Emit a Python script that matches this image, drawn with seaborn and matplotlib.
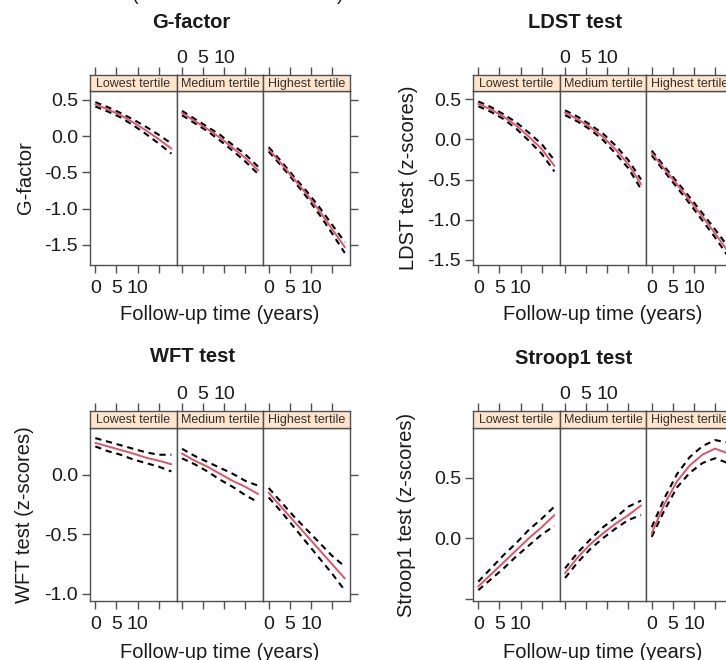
import matplotlib

matplotlib.use("Agg")
import matplotlib.pyplot as plt
import seaborn as sns
import numpy as np
import pandas as pd

# --- data ---
TIME = [0, 3, 6, 9, 12, 15, 18]
TERTILES = ["Lowest tertile", "Medium tertile", "Highest tertile"]
XTICKS = [0, 5, 10, 15]
XTICKLABELS = ["0", "5", "10", ""]

# G-factor: fitted curve, upper and lower bound, one list per tertile
G_FIT = [
    [0.44, 0.37, 0.29, 0.19, 0.08, -0.04, -0.17],
    [0.32, 0.21, 0.10, -0.02, -0.16, -0.30, -0.47],
    [-0.18, -0.38, -0.59, -0.80, -1.03, -1.28, -1.53],
]
G_UPPER = [
    [0.47, 0.40, 0.32, 0.23, 0.13, 0.02, -0.10],
    [0.35, 0.24, 0.13, 0.02, -0.12, -0.25, -0.42],
    [-0.15, -0.35, -0.56, -0.76, -0.98, -1.22, -1.46],
]
G_LOWER = [
    [0.41, 0.34, 0.26, 0.15, 0.03, -0.10, -0.24],
    [0.29, 0.18, 0.07, -0.06, -0.20, -0.35, -0.52],
    [-0.21, -0.41, -0.62, -0.84, -1.08, -1.34, -1.61],
]

# LDST test
LDST_FIT = [
    [0.44, 0.37, 0.28, 0.17, 0.03, -0.12, -0.33],
    [0.33, 0.25, 0.15, 0.03, -0.13, -0.31, -0.56],
    [-0.17, -0.37, -0.56, -0.76, -0.96, -1.17, -1.39],
]
LDST_UPPER = [
    [0.47, 0.40, 0.31, 0.21, 0.08, -0.06, -0.26],
    [0.36, 0.28, 0.18, 0.07, -0.08, -0.26, -0.50],
    [-0.14, -0.34, -0.53, -0.72, -0.92, -1.12, -1.33],
]
LDST_LOWER = [
    [0.41, 0.34, 0.25, 0.13, -0.02, -0.18, -0.40],
    [0.30, 0.22, 0.12, -0.01, -0.18, -0.36, -0.62],
    [-0.20, -0.40, -0.60, -0.80, -1.01, -1.22, -1.45],
]

# WFT test
WFT_FIT = [
    [0.27, 0.24, 0.21, 0.18, 0.145, 0.12, 0.09],
    [0.18, 0.12, 0.07, 0.01, -0.05, -0.10, -0.16],
    [-0.15, -0.27, -0.39, -0.51, -0.63, -0.75, -0.87],
]
WFT_UPPER = [
    [0.31, 0.28, 0.25, 0.22, 0.19, 0.17, 0.17],
    [0.22, 0.16, 0.11, 0.06, 0.01, -0.05, -0.09],
    [-0.11, -0.23, -0.35, -0.46, -0.57, -0.68, -0.77],
]
WFT_LOWER = [
    [0.24, 0.20, 0.17, 0.13, 0.10, 0.07, 0.03],
    [0.14, 0.09, 0.03, -0.04, -0.10, -0.17, -0.23],
    [-0.19, -0.31, -0.44, -0.57, -0.70, -0.83, -0.97],
]

# Stroop1 test
STROOP_FIT = [
    [-0.40, -0.30, -0.20, -0.10, 0.00, 0.09, 0.19],
    [-0.29, -0.16, -0.05, 0.04, 0.12, 0.19, 0.27],
    [0.04, 0.28, 0.47, 0.60, 0.69, 0.74, 0.70],
]
STROOP_UPPER = [
    [-0.36, -0.25, -0.14, -0.04, 0.07, 0.16, 0.26],
    [-0.25, -0.12, -0.01, 0.09, 0.17, 0.26, 0.31],
    [0.09, 0.33, 0.53, 0.67, 0.76, 0.81, 0.79],
]
STROOP_LOWER = [
    [-0.43, -0.34, -0.25, -0.15, -0.06, 0.03, 0.10],
    [-0.33, -0.20, -0.09, 0.00, 0.08, 0.15, 0.19],
    [0.01, 0.23, 0.42, 0.54, 0.62, 0.66, 0.62],
]

# --- layout (pixels) ---
W, H = 726, 660
PANEL_W = 86.7
RED = "#DF536B"
FRAME = "#505050"
STRIP = "#FFE5CC"

OUTCOMES = [
    dict(title="G-factor", ylabel="G-factor", fit=G_FIT, upper=G_UPPER, lower=G_LOWER,
         left=90, top=75, strip_h=16, bottom=265, ylim=(-1.776, 0.624),
         yticks=[-1.5, -1.0, -0.5, 0.0, 0.5], ylabels=["-1.5", "-1.0", "-0.5", "0.0", "0.5"],
         tx=191, ty=22, lx=25, xl_y=314),
    dict(title="LDST test", ylabel="LDST test (z-scores)", fit=LDST_FIT, upper=LDST_UPPER, lower=LDST_LOWER,
         left=473, top=75, strip_h=16, bottom=265, ylim=(-1.5625, 0.6),
         yticks=[-1.5, -1.0, -0.5, 0.0, 0.5], ylabels=["-1.5", "-1.0", "-0.5", "0.0", "0.5"],
         tx=575, ty=22, lx=408, xl_y=314),
    dict(title="WFT test", ylabel="WFT test (z-scores)", fit=WFT_FIT, upper=WFT_UPPER, lower=WFT_LOWER,
         left=90, top=411, strip_h=17, bottom=601, ylim=(-1.06, 0.395),
         yticks=[-1.0, -0.5, 0.0], ylabels=["-1.0", "-0.5", "0.0"],
         tx=192, ty=357, lx=25, xl_y=652),
    dict(title="Stroop1 test", ylabel="Stroop1 test (z-scores)", fit=STROOP_FIT, upper=STROOP_UPPER, lower=STROOP_LOWER,
         left=473, top=411, strip_h=17, bottom=601, ylim=(-0.52, 0.91),
         yticks=[-0.5, 0.0, 0.5], ylabels=["", "0.0", "0.5"],
         tx=574, ty=358, lx=406, xl_y=652),
]


def px_axes(fig, left, top, width, height):
    return fig.add_axes([left / W, 1 - (top + height) / H, width / W, height / H])


def long_frame(fit, upper, lower, k):
    rows = []
    for name, series in (("fit", fit), ("upper", upper), ("lower", lower)):
        for t, v in zip(TIME, series[k]):
            rows.append({"time": t, "value": v, "curve": name})
    return pd.DataFrame(rows)


def style_spines(ax):
    for sp in ax.spines.values():
        sp.set_color(FRAME)
        sp.set_linewidth(1.0)


def draw_outcome(fig, o):
    strip_top = o["top"]
    panel_top = strip_top + o["strip_h"]
    panel_h = o["bottom"] - panel_top
    for k, tert in enumerate(TERTILES):
        x0 = o["left"] + k * PANEL_W
        ax = px_axes(fig, x0, panel_top, PANEL_W, panel_h)
        df = long_frame(o["fit"], o["upper"], o["lower"], k)
        for name in ("upper", "lower"):
            sns.lineplot(data=df[df["curve"] == name], x="time", y="value", ax=ax,
                         color="black", lw=1.5, linestyle=(0, (3, 2.3)))
        sns.lineplot(data=df[df["curve"] == "fit"], x="time", y="value", ax=ax,
                     color=RED, lw=1.4)
        ax.set_xlim(-1.26, 19.26)
        ax.set_ylim(*o["ylim"])
        ax.set_xlabel("")
        ax.set_ylabel("")
        ax.set_xticks(XTICKS)
        if k in (0, 2):
            ax.set_xticklabels(XTICKLABELS)
        else:
            ax.set_xticklabels([""] * len(XTICKS))
        ax.set_yticks(o["yticks"])
        ax.set_yticklabels(o["ylabels"])
        ax.tick_params(axis="x", direction="out", length=5.5, width=1.0, color=FRAME,
                       pad=5.5, labelsize=14)
        ax.tick_params(axis="y", direction="out", length=5.5, width=1.0, color=FRAME,
                       pad=3, labelsize=14, left=(k == 0), labelleft=(k == 0),
                       right=(k == 2), labelright=False)
        style_spines(ax)

        # strip with the tertile name, top ticks sit above it
        sax = px_axes(fig, x0, strip_top, PANEL_W, o["strip_h"])
        sax.set_facecolor(STRIP)
        sax.set_xlim(-1.26, 19.26)
        sax.set_ylim(0, 1)
        sax.set_yticks([])
        sax.xaxis.tick_top()
        sax.set_xticks(XTICKS)
        if k == 1:
            sax.set_xticklabels(XTICKLABELS)
        else:
            sax.set_xticklabels([""] * len(XTICKS))
        sax.tick_params(axis="x", direction="out", length=5.5, width=1.0, color=FRAME,
                        pad=0.5, labelsize=14)
        sax.text(0.5, 0.45, tert, transform=sax.transAxes, ha="center", va="center",
                 fontsize=9, color="#303030")
        style_spines(sax)

    group_cx = o["left"] + 1.5 * PANEL_W
    fig.text(o["tx"] / W, 1 - o["ty"] / H, o["title"], ha="center", va="center",
             fontsize=14.5, fontweight="bold")
    fig.text(o["lx"] / W, 1 - (panel_top + panel_h / 2) / H, o["ylabel"], rotation=90,
             ha="center", va="center", fontsize=14.5)
    fig.text(group_cx / W, 1 - o["xl_y"] / H, "Follow-up time (years)", ha="center",
             va="center", fontsize=14.5)


def main():
    sns.set_style("ticks")
    plt.rcParams["font.family"] = ["Liberation Sans", "DejaVu Sans"]
    plt.rcParams["text.color"] = "#1a1a1a"
    plt.rcParams["xtick.color"] = "#1a1a1a"
    plt.rcParams["ytick.color"] = "#1a1a1a"

    fig = plt.figure(figsize=(W / 100, H / 100), dpi=100)
    for o in OUTCOMES:
        draw_outcome(fig, o)

    # bottoms of the brackets from the caption above, cut by the crop
    fig.text(135 / W, 1.0, "(", ha="center", va="baseline", fontsize=14.5)
    fig.text(340 / W, 1.0, ")", ha="center", va="baseline", fontsize=14.5)

    fig.savefig("out.png", dpi=100)
    plt.close(fig)


if __name__ == "__main__":
    main()
